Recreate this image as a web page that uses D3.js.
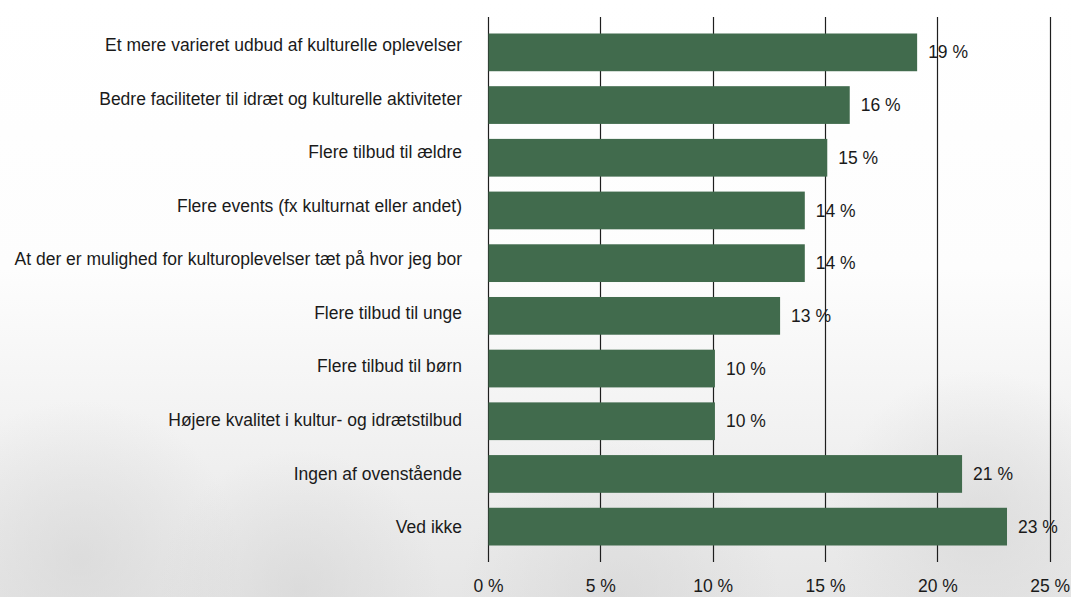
<!DOCTYPE html>
<html>
<head>
<meta charset="utf-8">
<script src="https://cdn.jsdelivr.net/npm/d3@7"></script>
<style>
  html, body { margin: 0; padding: 0; background: #fff; }
  svg { display: block; font-family: "Liberation Sans", Arial, Helvetica, sans-serif; }
</style>
</head>
<body>
<svg id="chart" width="1071" height="597"></svg>
<script>
const categories = [
  "Et mere varieret udbud af kulturelle oplevelser",
  "Bedre faciliteter til idræt og kulturelle aktiviteter",
  "Flere tilbud til ældre",
  "Flere events (fx kulturnat eller andet)",
  "At der er mulighed for kulturoplevelser tæt på hvor jeg bor",
  "Flere tilbud til unge",
  "Flere tilbud til børn",
  "Højere kvalitet i kultur- og idrætstilbud",
  "Ingen af ovenstående",
  "Ved ikke"
];
const values = [19.1, 16.1, 15.1, 14.1, 14.1, 13.0, 10.1, 10.1, 21.1, 23.1];
const ticks = [0, 5, 10, 15, 20, 25];

const W = 1071, H = 597;
const FS = 17.5;
const svg = d3.select("#chart");

// faded background
const defs = svg.append("defs");
const lg = defs.append("linearGradient").attr("id", "bg").attr("x1", 0).attr("y1", 0).attr("x2", 0).attr("y2", 1);
lg.append("stop").attr("offset", "0%").attr("stop-color", "#ffffff");
lg.append("stop").attr("offset", "45%").attr("stop-color", "#fdfdfd");
lg.append("stop").attr("offset", "100%").attr("stop-color", "#e6e6e6");
svg.append("rect").attr("width", W).attr("height", H).attr("fill", "url(#bg)");
const rg = defs.append("radialGradient").attr("id", "blob");
rg.append("stop").attr("offset", "0%").attr("stop-color", "#d4d4d4").attr("stop-opacity", 0.6);
rg.append("stop").attr("offset", "100%").attr("stop-color", "#d4d4d4").attr("stop-opacity", 0);
[[80, 560, 160], [300, 590, 140], [980, 520, 150], [620, 600, 160]].forEach(([cx, cy, r]) => {
  svg.append("circle").attr("cx", cx).attr("cy", cy).attr("r", r).attr("fill", "url(#blob)");
});

const x = d3.scaleLinear().domain([0, 25]).range([488, 1049.7]);
const y = d3.scaleBand().domain(categories).range([17, 562]).paddingInner(0.284).paddingOuter(0.313);
const yLab = d3.scalePoint().domain(categories).range([45, 527]);

// gridlines
svg.append("g").selectAll("line").data(ticks).join("line")
  .attr("x1", d => Math.round(x(d)) + 0.5).attr("x2", d => Math.round(x(d)) + 0.5)
  .attr("y1", 17).attr("y2", 562)
  .attr("stroke", "#1e1e1e").attr("stroke-width", 1.2);

// bars
svg.append("g").selectAll("rect").data(values).join("rect")
  .attr("x", x(0) + 0.5)
  .attr("y", (d, i) => y(categories[i]))
  .attr("width", d => x(d) - x(0) - 0.5)
  .attr("height", y.bandwidth())
  .attr("fill", "#416b4d");

// value labels
svg.append("g").selectAll("text").data(values).join("text")
  .attr("x", d => x(d) + 11)
  .attr("y", (d, i) => y(categories[i]) + y.bandwidth() / 2)
  .attr("dy", "0.35em")
  .attr("font-size", FS)
  .attr("fill", "#1a1a1a")
  .text(d => Math.round(d) + " %");

// category labels
svg.append("g").selectAll("text").data(categories).join("text")
  .attr("x", 462)
  .attr("y", d => yLab(d))
  .attr("dy", "0.35em")
  .attr("text-anchor", "end")
  .attr("font-size", FS)
  .attr("fill", "#1a1a1a")
  .text(d => d);

// tick labels
const xAxis = d3.axisBottom(x).tickValues(ticks).tickSize(0).tickPadding(0).tickFormat(d => d + " %");
const ax = svg.append("g").attr("transform", "translate(0,586)").call(xAxis);
ax.select(".domain").remove();
ax.selectAll("text").attr("font-size", FS).attr("fill", "#1a1a1a").attr("dy", "0.35em")
  .attr("font-family", "'Liberation Sans', Arial, sans-serif");
</script>
</body>
</html>
